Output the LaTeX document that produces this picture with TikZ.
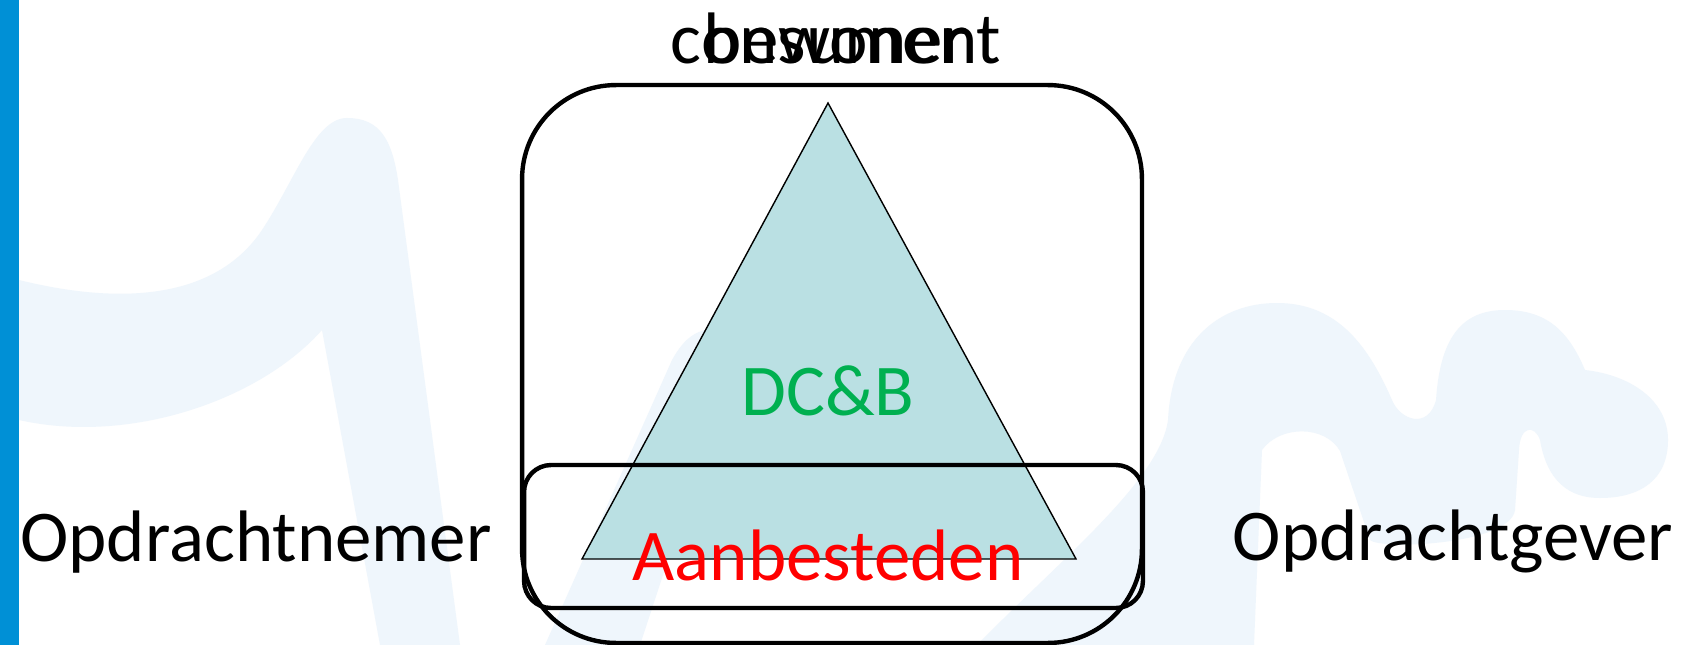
\documentclass[tikz,border=0pt]{standalone}
\usepackage{fontspec}
\setmainfont{Carlito}
\definecolor{watermerk}{RGB}{239,246,252}
\definecolor{balk}{RGB}{0,144,214}
\definecolor{piramide}{RGB}{186,224,227}
\definecolor{groen}{RGB}{0,176,80}

\begin{document}
\begin{tikzpicture}[x=0.02cm, y=-0.02cm,
		tekst/.style={anchor=base, inner sep=0pt, font=\fontsize{41.5}{50}\selectfont},
		kader/.style={draw, line width=2.5pt, inner sep=0pt}
		]
	\useasboundingbox (0,0) rectangle (1702,645);
	\fill[white] (0,0) rectangle (1702,645);
	\fill[watermerk] (19,280) .. controls (120,305) and (215,300) .. (262,230)
	  .. controls (295,180) and (315,118) .. (347,118)
	  .. controls (380,118) and (392,140) .. (398,180) -- (460,645) -- (380,645) -- (322,330)
	  .. controls (260,400) and (130,445) .. (19,420) -- cycle;
	\fill[watermerk] (705,330) .. controls (725,325) and (740,340) .. (732,365) -- (640,645) -- (545,645) -- (672,360)
	  .. controls (682,342) and (692,333) .. (705,330) -- cycle;
	\fill[watermerk] (977,645) .. controls (1060,560) and (1160,480) .. (1168,420)
	  .. controls (1172,340) and (1220,303) .. (1277,303)
	  .. controls (1340,303) and (1370,350) .. (1392,400)
	  .. controls (1400,420) and (1428,430) .. (1436,400)
	  .. controls (1440,340) and (1460,310) .. (1505,310)
	  .. controls (1550,310) and (1570,335) .. (1585,370)
	  .. controls (1630,375) and (1668,400) .. (1668,440)
	  .. controls (1668,480) and (1640,498) .. (1600,498)
	  .. controls (1560,498) and (1545,470) .. (1540,440)
	  .. controls (1535,425) and (1520,425) .. (1519,450) -- (1515,510)
	  .. controls (1510,545) and (1380,550) .. (1370,540) -- (1340,451)
	  .. controls (1325,425) and (1280,425) .. (1262,450) -- (1254,645) -- cycle;
	\fill[balk] (0,0) rectangle (19,645);
	\coordinate (top) at (828,103);
	\coordinate (links) at (582,559);
	\coordinate (rechts) at (1076,559);
	\draw[fill=piramide, line width=0.8pt] (top) -- (links) -- (rechts) -- cycle;
	\node[kader, rounded corners=1.88cm, minimum width=12.4cm, minimum height=11.16cm] (groot) at (832,364) {};
	\node[kader, rounded corners=0.54cm, minimum width=12.38cm, minimum height=2.86cm] (klein) at (833.5,536.5) {};
	\node[tekst] (consument) at (836,64) {consument};
	\node[tekst] (bewoner) at (836,64) {bewoner};
	\node[tekst, text=groen] (dcb) at (828,415) {DC\&B};
	\node[tekst, text=red] (aanbesteden) at (828,580) {Aanbesteden};
	\node[tekst] (nemer) at (256,561) {Opdrachtnemer};
	\node[tekst] (gever) at (1453,560) {Opdrachtgever};
\end{tikzpicture}
\end{document}
